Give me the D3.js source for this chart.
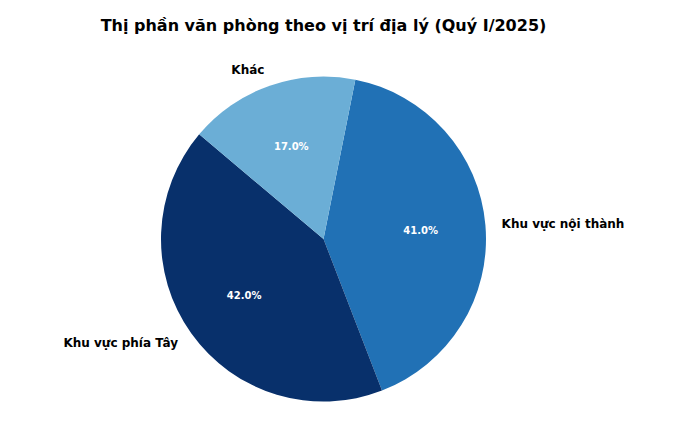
<!DOCTYPE html>
<html>
<head>
<meta charset="utf-8">
<script src="https://cdn.jsdelivr.net/npm/d3@7"></script>
<style>
  body { margin: 0; background: #fff; }
  text { font-family: "DejaVu Sans", sans-serif; font-weight: bold; }
</style>
</head>
<body>
<svg id="chart" width="700" height="438"></svg>
<script>
// ====== Du lieu ======
var categories = ["Khu vực nội thành", "Khu vực phía Tây", "Khác"];
var shares = [41, 42, 17];
var colors = ["#2171b5", "#08306b", "#6baed6"];

var width = 700, height = 438;
var cx = 323.5, cy = 239, radius = 162.5;
var startDeg = 11.3;

var svg = d3.select("#chart");

svg.append("text")
  .attr("x", cx)
  .attr("y", 25)
  .attr("text-anchor", "middle")
  .attr("dominant-baseline", "central")
  .style("font-size", "16px")
  .text("Thị phần văn phòng theo vị trí địa lý (Quý I/2025)");

var data = categories.map(function(c, i) { return { cat: c, value: shares[i], color: colors[i] }; });

var pie = d3.pie()
  .sort(null)
  .value(function(d) { return d.value; })
  .startAngle(startDeg * Math.PI / 180)
  .endAngle(startDeg * Math.PI / 180 + 2 * Math.PI);

var arcs = pie(data);
var arc = d3.arc().innerRadius(0).outerRadius(radius);

var g = svg.append("g").attr("transform", "translate(" + cx + "," + cy + ")");

g.selectAll("path")
  .data(arcs)
  .enter().append("path")
    .attr("d", arc)
    .attr("fill", function(d) { return d.data.color; });

// etiquetas afuera (1.1 r) y porcentajes adentro (0.6 r)
function pos(d, k) {
  var a = (d.startAngle + d.endAngle) / 2;
  return [k * radius * Math.sin(a), -k * radius * Math.cos(a)];
}

g.selectAll("text.label")
  .data(arcs)
  .enter().append("text")
    .attr("class", "label")
    .attr("x", function(d) { return pos(d, 1.1)[0]; })
    .attr("y", function(d) { return pos(d, 1.1)[1]; })
    .attr("text-anchor", function(d) { return pos(d, 1.1)[0] < 0 ? "end" : "start"; })
    .attr("dominant-baseline", "central")
    .style("font-size", "12px")
    .text(function(d) { return d.data.cat; });

g.selectAll("text.pct")
  .data(arcs)
  .enter().append("text")
    .attr("class", "pct")
    .attr("x", function(d) { return pos(d, 0.6)[0]; })
    .attr("y", function(d) { return pos(d, 0.6)[1]; })
    .attr("text-anchor", "middle")
    .attr("dominant-baseline", "central")
    .attr("fill", "#fff")
    .style("font-size", "10px")
    .text(function(d) { return d.data.value.toFixed(1) + "%"; });
</script>
</body>
</html>
